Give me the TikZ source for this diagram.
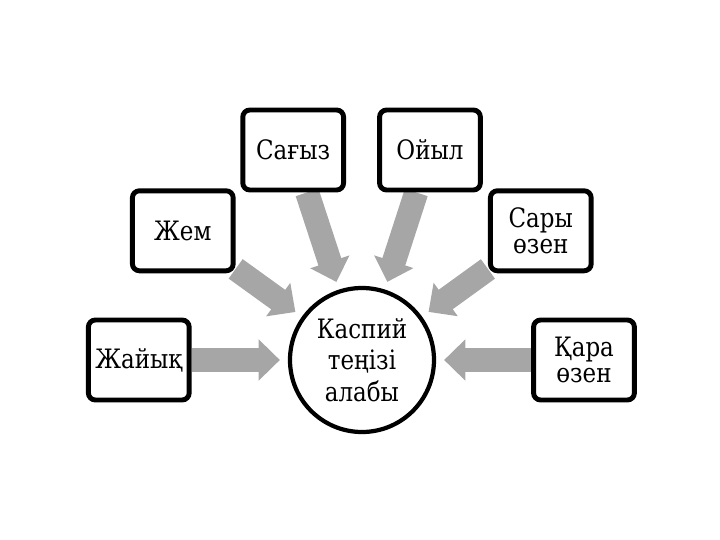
\documentclass[tikz,border=0pt]{standalone}
\usepackage{fontspec}
\newfontfamily\rivfont{DejaVu Serif}[FakeStretch=0.86]
\usepackage{tikz}
\usetikzlibrary{arrows.meta,backgrounds}
\definecolor{rivgray}{HTML}{A6A6A6}
\tikzset{
  riv/.style={draw=black, fill=white, line width=3.5pt, rounded corners=5pt,
    align=center, minimum width=2.52cm, minimum height=2.0cm, inner sep=2pt,
    font=\rivfont\fontsize{19}{19}\selectfont},
  sea/.style={draw=black, fill=white, circle, line width=3pt, align=center,
    minimum size=3.6cm, inner sep=0pt, font=\rivfont\fontsize{19}{22.4}\selectfont},
  flow/.style={-{Triangle[length=0.53cm, width=1.0cm]}, line width=0.6cm,
    draw=rivgray, shorten >=0.2cm},
}
\begin{document}
\begin{tikzpicture}
  \useasboundingbox (-9.05,-4.5) rectangle (8.95,9.0);
  \node[sea] (kas) at (0,0) {Каспий\\теңізі\\алабы};
  \node[riv] (zhai) at (-5.58,0) {Жайық};
  \node[riv] (zhem) at (-4.48,3.23) {Жем};
  \node[riv] (sag) at (-1.72,5.25) {Сағыз};
  \node[riv] (oiyl) at (1.70,5.25) {Ойыл};
  \node[riv] (sary) at (4.47,3.23) {Сары\\өзен};
  \node[riv] (qara) at (5.55,0) {Қара\\өзен};
  \begin{scope}[on background layer]
    \draw[flow] (zhai) -- (kas); \draw[flow] (zhem) -- (kas);
    \draw[flow] (sag) -- (kas); \draw[flow] (oiyl) -- (kas);
    \draw[flow] (sary) -- (kas); \draw[flow] (qara) -- (kas);
  \end{scope}
\end{tikzpicture}
\end{document}
